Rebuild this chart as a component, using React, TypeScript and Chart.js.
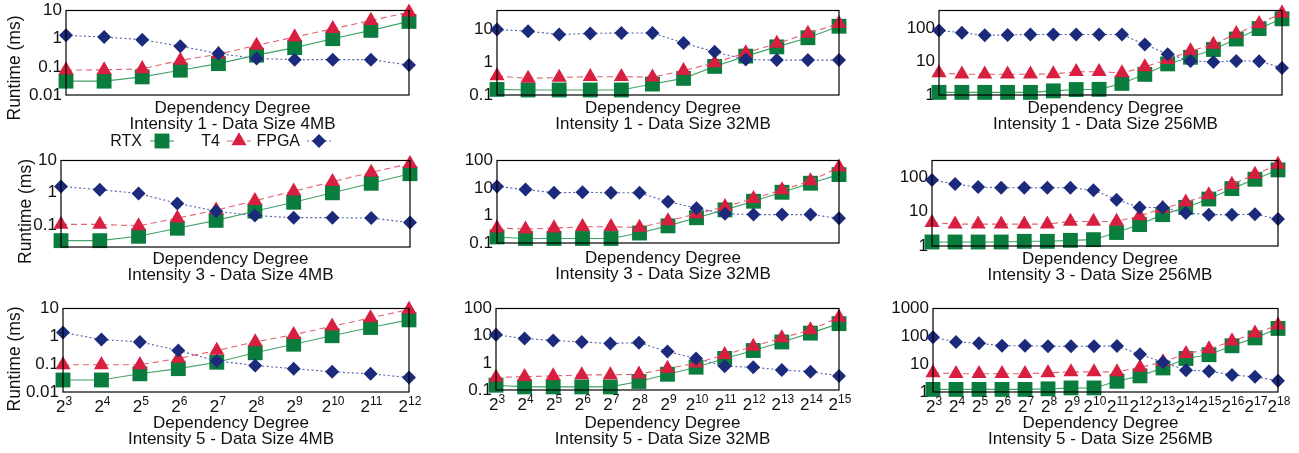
import React, { useEffect, useRef } from 'react';
import { Chart, registerables } from 'chart.js';

Chart.register(...registerables);

const FONT_FAMILY = "'Liberation Sans', Arial, Helvetica, sans-serif";
const TEXT_COLOR = '#111111';

// ---------------- data ----------------
// x values are exponents of 2 (dependency degree = 2^n)
const degreeExp4MB = [3, 4, 5, 6, 7, 8, 9, 10, 11, 12];
const degreeExp32MBi1 = [3, 4, 5, 6, 7, 8, 9, 10, 11, 12, 13, 14];
const degreeExp32MB = [3, 4, 5, 6, 7, 8, 9, 10, 11, 12, 13, 14, 15];
const degreeExp256MB = [3, 4, 5, 6, 7, 8, 9, 10, 11, 12, 13, 14, 15, 16, 17, 18];

const seriesNames = ['RTX', 'T4', 'FPGA'];
const xAxisTitle = 'Dependency Degree';
const yAxisTitle = 'Runtime (ms)';

// Intensity 1
const i1_4mb_rtx = [0.031, 0.031, 0.044, 0.076, 0.13, 0.26, 0.48, 1.0, 1.97, 4.1];
const i1_4mb_t4 = [0.077, 0.078, 0.085, 0.17, 0.28, 0.58, 1.14, 2.25, 4.4, 8.7];
const i1_4mb_fpga = [1.31, 1.14, 0.92, 0.54, 0.295, 0.197, 0.18, 0.18, 0.18, 0.115];

const i1_32mb_rtx = [0.148, 0.142, 0.142, 0.142, 0.142, 0.215, 0.32, 0.74, 1.52, 2.9, 5.5, 12.3];
const i1_32mb_t4 = [0.38, 0.32, 0.34, 0.36, 0.36, 0.35, 0.55, 0.95, 1.9, 3.7, 7.4, 14.8];
const i1_32mb_fpga = [9.8, 8.7, 6.9, 7.4, 7.7, 7.7, 3.8, 2.05, 1.2, 1.15, 1.15, 1.15];

const i1_256mb_rtx = [1.2, 1.2, 1.2, 1.2, 1.2, 1.33, 1.46, 1.48, 2.23, 4.17, 8.6, 13.6, 23.3, 48, 99, 195];
const i1_256mb_t4 = [4.6, 4.2, 4.2, 4.2, 4.2, 4.3, 5.0, 5.0, 4.6, 7.0, 11.6, 21, 33, 69, 138, 286];
const i1_256mb_fpga = [87, 74, 62, 64, 66, 66, 66, 66, 66, 33, 16.7, 10.6, 9.8, 10.6, 10.4, 6.5];

// Intensity 3
const i3_4mb_rtx = [0.033, 0.033, 0.045, 0.08, 0.14, 0.27, 0.51, 1.0, 1.97, 3.9];
const i3_4mb_t4 = [0.105, 0.105, 0.095, 0.164, 0.29, 0.57, 1.12, 2.2, 4.3, 8.0];
const i3_4mb_fpga = [1.57, 1.25, 0.95, 0.47, 0.27, 0.197, 0.17, 0.17, 0.165, 0.12];

const i3_32mb_rtx = [0.166, 0.146, 0.146, 0.146, 0.146, 0.23, 0.42, 0.83, 1.6, 3.3, 7.0, 14.9, 30.7];
const i3_32mb_t4 = [0.35, 0.32, 0.35, 0.39, 0.39, 0.37, 0.63, 1.15, 2.1, 4.1, 8.5, 18, 57];
const i3_32mb_fpga = [11.4, 8.8, 6.7, 7.0, 6.7, 6.7, 3.16, 1.85, 1.15, 1.08, 1.08, 1.08, 0.79];

const i3_256mb_rtx = [1.31, 1.31, 1.31, 1.31, 1.37, 1.37, 1.46, 1.53, 2.47, 4.2, 8.2, 13.3, 23.4, 47, 88, 165];
const i3_256mb_t4 = [4.8, 4.35, 4.35, 4.35, 4.35, 4.35, 5.2, 5.2, 5.2, 7.5, 12.4, 19, 30.8, 61.7, 121, 237];
const i3_256mb_fpga = [84, 64, 52, 50, 50, 50, 50, 42, 22.4, 13.3, 13.3, 9.1, 8.2, 8.2, 8.4, 6.1];

// Intensity 5
const i5_4mb_rtx = [0.027, 0.027, 0.045, 0.069, 0.117, 0.256, 0.52, 1.05, 2.08, 3.9];
const i5_4mb_t4 = [0.095, 0.095, 0.095, 0.16, 0.31, 0.63, 1.14, 2.3, 4.56, 9.2];
const i5_4mb_fpga = [1.37, 0.77, 0.63, 0.31, 0.13, 0.09, 0.069, 0.053, 0.045, 0.033];

const i5_32mb_rtx = [0.15, 0.13, 0.13, 0.13, 0.13, 0.206, 0.38, 0.69, 1.45, 2.84, 5.85, 12.4, 27.7];
const i5_32mb_t4 = [0.29, 0.31, 0.33, 0.36, 0.36, 0.38, 0.62, 0.97, 2.0, 4.0, 8.3, 16.2, 47];
const i5_32mb_fpga = [10.8, 7.8, 6.7, 5.85, 5.2, 5.5, 2.6, 1.45, 0.745, 0.69, 0.54, 0.47, 0.33];

const i5_256mb_rtx = [1.24, 1.24, 1.24, 1.24, 1.24, 1.3, 1.4, 1.4, 2.43, 3.8, 7.3, 16, 21.9, 45.8, 88, 192];
const i5_256mb_t4 = [4.9, 4.55, 4.55, 4.55, 4.55, 4.9, 5.3, 5.3, 5.3, 7.7, 12, 23.7, 35, 67.6, 130, 250];
const i5_256mb_fpga = [93, 63, 56, 45.8, 45.8, 44, 44, 44, 45, 22.6, 11.7, 6.1, 5.6, 4.1, 3.5, 2.56];

// y tick values / labels
const yTicksA = [0.01, 0.1, 1, 10];
const yLabelsA = ['0.01', '0.1', '1', '10'];
const yTicksB = [0.1, 1, 10];
const yLabelsB = ['0.1', '1', '10'];
const yTicksC = [1, 10, 100];
const yLabelsC = ['1', '10', '100'];
const yTicksD = [0.1, 1, 10, 100];
const yLabelsD = ['0.1', '1', '10', '100'];
const yTicksE = [1, 10, 100, 1000];
const yLabelsE = ['1', '10', '100', '1000'];

// ---------------- styles ----------------
const seriesStyles = [
  { fill: '#0a7d3e', line: '#43a267', shape: 'rect', r: 10.5, dash: [] as number[], order: 3 },
  { fill: '#d81f40', line: '#e4606f', shape: 'triangle', r: 8.7, dash: [6, 4], order: 2 },
  { fill: '#1c2a7c', line: '#5260ad', shape: 'rectRot', r: 7, dash: [2, 2.5], order: 1 },
];

interface Panel {
  xs: number[];
  series: number[][];
  yMin: number;
  yMax: number;
  yTicks: number[];
  yLabels: string[];
  title: string;
  cell: [number, number, number, number];
  plot: [number, number, number, number];
  titleGap: [number, number];
  xTicks?: boolean;
  yTitlePos?: [number, number];
  legend?: boolean;
}

const colX = [0, 433, 866];
const colW = 433;
const rowY = [0, 150, 298];
const rowH = [150, 148, 155];

const panels: Panel[] = [
  {
    xs: degreeExp4MB, series: [i1_4mb_rtx, i1_4mb_t4, i1_4mb_fpga],
    yMin: 0.01, yMax: 10, yTicks: yTicksA, yLabels: yLabelsA,
    title: 'Intensity 1 - Data Size 4MB',
    cell: [colX[0], rowY[0], colW, rowH[0]], plot: [66, 10, 409, 95], titleGap: [17.5, 34],
    yTitlePos: [15.5, 68], legend: true,
  },
  {
    xs: degreeExp32MBi1, series: [i1_32mb_rtx, i1_32mb_t4, i1_32mb_fpga],
    yMin: 0.1, yMax: 37, yTicks: yTicksB, yLabels: yLabelsB,
    title: 'Intensity 1 - Data Size 32MB',
    cell: [colX[1], rowY[0], colW, rowH[0]], plot: [497, 10, 839, 95], titleGap: [17.5, 34],
  },
  {
    xs: degreeExp256MB, series: [i1_256mb_rtx, i1_256mb_t4, i1_256mb_fpga],
    yMin: 1, yMax: 346, yTicks: yTicksC, yLabels: yLabelsC,
    title: 'Intensity 1 - Data Size 256MB',
    cell: [colX[2], rowY[0], colW, rowH[0]], plot: [939, 10, 1282, 95], titleGap: [17.5, 34],
  },
  {
    xs: degreeExp4MB, series: [i3_4mb_rtx, i3_4mb_t4, i3_4mb_fpga],
    yMin: 0.021, yMax: 10, yTicks: yTicksB, yLabels: yLabelsB,
    title: 'Intensity 3 - Data Size 4MB',
    cell: [colX[0], rowY[1], colW, rowH[1]], plot: [61, 156, 410, 247], titleGap: [17, 33],
    yTitlePos: [26, 211.5],
  },
  {
    xs: degreeExp32MB, series: [i3_32mb_rtx, i3_32mb_t4, i3_32mb_fpga],
    yMin: 0.1, yMax: 100, yTicks: yTicksD, yLabels: yLabelsD,
    title: 'Intensity 3 - Data Size 32MB',
    cell: [colX[1], rowY[1], colW, rowH[1]], plot: [497, 157, 839, 243], titleGap: [20, 36],
  },
  {
    xs: degreeExp256MB, series: [i3_256mb_rtx, i3_256mb_t4, i3_256mb_fpga],
    yMin: 1, yMax: 310, yTicks: yTicksC, yLabels: yLabelsC,
    title: 'Intensity 3 - Data Size 256MB',
    cell: [colX[2], rowY[1], colW, rowH[1]], plot: [932, 156, 1278, 246], titleGap: [17.5, 33.5],
  },
  {
    xs: degreeExp4MB, series: [i5_4mb_rtx, i5_4mb_t4, i5_4mb_fpga],
    yMin: 0.01, yMax: 10, yTicks: yTicksA, yLabels: yLabelsA,
    title: 'Intensity 5 - Data Size 4MB',
    cell: [colX[0], rowY[2], colW, rowH[2]], plot: [63, 304, 409, 392], titleGap: [36, 51.5],
    xTicks: true, yTitlePos: [15.5, 359],
  },
  {
    xs: degreeExp32MB, series: [i5_32mb_rtx, i5_32mb_t4, i5_32mb_fpga],
    yMin: 0.1, yMax: 100, yTicks: yTicksD, yLabels: yLabelsD,
    title: 'Intensity 5 - Data Size 32MB',
    cell: [colX[1], rowY[2], colW, rowH[2]], plot: [496, 304, 839, 390], titleGap: [38, 53.5],
    xTicks: true,
  },
  {
    xs: degreeExp256MB, series: [i5_256mb_rtx, i5_256mb_t4, i5_256mb_fpga],
    yMin: 1, yMax: 1000, yTicks: yTicksE, yLabels: yLabelsE,
    title: 'Intensity 5 - Data Size 256MB',
    cell: [colX[2], rowY[2], colW, rowH[2]], plot: [933, 304, 1278, 392], titleGap: [36, 51.5],
    xTicks: true,
  },
];

function drawMarker(ctx: CanvasRenderingContext2D, shape: string, x: number, y: number, r: number, fill: string) {
  ctx.save();
  ctx.fillStyle = fill;
  ctx.setLineDash([]);
  ctx.beginPath();
  if (shape === 'rect') {
    const s = r * Math.SQRT1_2;
    ctx.rect(x - s, y - s, 2 * s, 2 * s);
  } else if (shape === 'triangle') {
    ctx.moveTo(x, y - r);
    ctx.lineTo(x + 0.866 * r, y + 0.5 * r);
    ctx.lineTo(x - 0.866 * r, y + 0.5 * r);
    ctx.closePath();
  } else {
    ctx.moveTo(x - r, y);
    ctx.lineTo(x, y - r);
    ctx.lineTo(x + r, y);
    ctx.lineTo(x, y + r);
    ctx.closePath();
  }
  ctx.fill();
  ctx.restore();
}

// legend layout (page coordinates)
const legendTextRight = [142, 220, 300];
const legendLineStart = [150, 227, 307];
const legendLineEnd = [174, 251, 331];
const legendBaseline = 146;
const legendMidY = 141;

function PanelChart({ p }: { p: Panel }) {
  const ref = useRef<HTMLCanvasElement>(null);
  useEffect(() => {
    const [cx, cy, cw, ch] = p.cell;
    const [L, T, R, B] = p.plot;

    const decor = {
      id: 'panelDecor',
      afterDatasetsDraw(c: any) {
        const ctx: CanvasRenderingContext2D = c.ctx;
        const a = c.chartArea;
        ctx.save();
        ctx.setLineDash([]);
        ctx.strokeStyle = '#000';
        ctx.lineWidth = 1.2;
        ctx.strokeRect(a.left, a.top, a.right - a.left, a.bottom - a.top);

        ctx.fillStyle = TEXT_COLOR;
        ctx.textAlign = 'center';
        ctx.textBaseline = 'alphabetic';
        ctx.font = `17px ${FONT_FAMILY}`;
        const tx = (a.left + a.right) / 2 - 5;
        ctx.fillText(xAxisTitle, tx, a.bottom + p.titleGap[0]);
        ctx.fillText(p.title, tx, a.bottom + p.titleGap[1]);

        if (p.xTicks) {
          const xs = c.scales.x;
          ctx.textAlign = 'left';
          for (const n of p.xs) {
            const px = xs.getPixelForValue(n);
            ctx.font = `17px ${FONT_FAMILY}`;
            const w2 = ctx.measureText('2').width;
            ctx.font = `12px ${FONT_FAMILY}`;
            const ex = String(n);
            const we = ctx.measureText(ex).width;
            const start = px - (w2 + we) / 2 + 1;
            ctx.font = `17px ${FONT_FAMILY}`;
            ctx.fillText('2', start, a.bottom + 20);
            ctx.font = `12px ${FONT_FAMILY}`;
            ctx.fillText(ex, start + w2, a.bottom + 13);
          }
        }

        if (p.yTitlePos) {
          ctx.save();
          ctx.translate(p.yTitlePos[0] - cx, p.yTitlePos[1] - cy);
          ctx.rotate(-Math.PI / 2);
          ctx.textAlign = 'center';
          ctx.textBaseline = 'middle';
          ctx.font = `17.5px ${FONT_FAMILY}`;
          ctx.fillText(yAxisTitle, 0, 0);
          ctx.restore();
        }

        if (p.legend) {
          ctx.font = `16px ${FONT_FAMILY}`;
          ctx.textAlign = 'right';
          ctx.textBaseline = 'alphabetic';
          seriesNames.forEach((name, i) => {
            const st = seriesStyles[i];
            ctx.fillStyle = TEXT_COLOR;
            ctx.fillText(name, legendTextRight[i] - cx, legendBaseline - cy);
            ctx.save();
            ctx.strokeStyle = st.line;
            ctx.lineWidth = 1.1;
            ctx.setLineDash(st.dash);
            ctx.beginPath();
            ctx.moveTo(legendLineStart[i] - cx, legendMidY - cy);
            ctx.lineTo(legendLineEnd[i] - cx, legendMidY - cy);
            ctx.stroke();
            ctx.restore();
            drawMarker(ctx, st.shape, (legendLineStart[i] + legendLineEnd[i]) / 2 - cx, legendMidY - cy, st.r, st.fill);
          });
        }
        ctx.restore();
      },
    };

    const datasets = seriesNames.map((name, k) => {
      const st = seriesStyles[k];
      return {
        label: name,
        data: p.xs.map((x, i) => ({ x, y: p.series[k][i] })),
        borderColor: st.line,
        backgroundColor: st.fill,
        borderWidth: 1.1,
        borderDash: st.dash,
        pointStyle: st.shape,
        pointRadius: st.r,
        pointHoverRadius: st.r,
        pointBackgroundColor: st.fill,
        pointBorderColor: st.fill,
        pointBorderWidth: 0,
        tension: 0,
        fill: false,
        clip: false as any,
        order: st.order,
      };
    });

    const chart = new Chart(ref.current as HTMLCanvasElement, {
      type: 'line',
      data: { datasets: datasets as any },
      options: {
        animation: false,
        responsive: false,
        devicePixelRatio: 1,
        events: [],
        layout: { padding: { left: 0, top: T - cy, right: cx + cw - R, bottom: 0 } },
        scales: {
          x: {
            type: 'linear',
            min: p.xs[0],
            max: p.xs[p.xs.length - 1],
            grid: { display: false, drawTicks: false },
            border: { display: false },
            ticks: { display: false },
            afterFit: (s: any) => {
              s.height = cy + ch - B;
              s.paddingLeft = 0;
              s.paddingRight = 0;
            },
          },
          y: {
            type: 'logarithmic',
            min: p.yMin,
            max: p.yMax,
            grid: { display: false, drawTicks: false },
            border: { display: false },
            ticks: {
              color: TEXT_COLOR,
              padding: 4,
              font: { family: FONT_FAMILY, size: 17, lineHeight: 1 },
              callback: (v: any) => {
                const i = p.yTicks.indexOf(Number(v));
                return i >= 0 ? p.yLabels[i] : '';
              },
            },
            afterBuildTicks: (s: any) => {
              s.ticks = p.yTicks.map((v) => ({ value: v }));
            },
            afterFit: (s: any) => {
              s.width = L - cx;
              s.paddingTop = 0;
              s.paddingBottom = 0;
            },
          },
        },
        plugins: {
          legend: { display: false },
          tooltip: { enabled: false },
          title: { display: false },
        },
      },
      plugins: [decor],
    });
    return () => chart.destroy();
  }, [p]);

  const [cx, cy, cw, ch] = p.cell;
  return (
    <canvas
      ref={ref}
      width={cw}
      height={ch}
      style={{ position: 'absolute', left: cx, top: cy, width: cw, height: ch }}
    />
  );
}

export default function App() {
  return (
    <div style={{ position: 'absolute', left: 0, top: 0, width: 1299, height: 453, background: '#ffffff' }}>
      {panels.map((p, i) => (
        <PanelChart key={i} p={p} />
      ))}
    </div>
  );
}
